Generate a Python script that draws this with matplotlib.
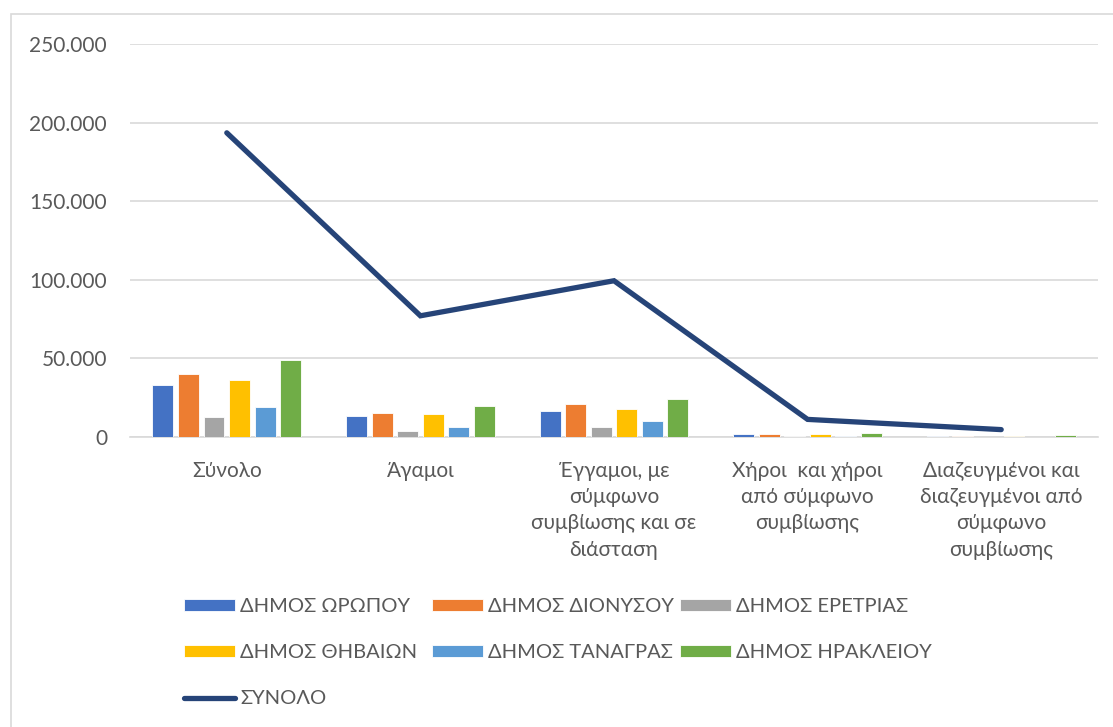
import matplotlib
matplotlib.use("Agg")
import matplotlib.pyplot as plt
import numpy as np
from matplotlib.patches import Rectangle
from matplotlib.lines import Line2D
from matplotlib.ticker import FuncFormatter

plt.rcParams['font.family'] = ['Lato', 'DejaVu Sans']

# κατηγορίες
categories = ["Σύνολο", "Άγαμοι", "Έγγαμοι, με\nσύμφωνο\nσυμβίωσης και σε\nδιάσταση",
              "Χήροι  και χήροι\nαπό σύμφωνο\nσυμβίωσης",
              "Διαζευγμένοι και\nδιαζευγμένοι από\nσύμφωνο\nσυμβίωσης"]

# τιμές ανά δήμο
oropou = [33300, 13400, 16700, 1600, 500]
dionysou = [40100, 15300, 21200, 1600, 600]
eretrias = [12900, 4000, 6550, 600, 300]
thivaion = [36000, 14800, 18000, 2200, 400]
tanagras = [19300, 6600, 10400, 900, 150]
irakleiou = [49200, 19700, 24400, 2800, 1300]
synolo = [193500, 77100, 99400, 11200, 4700]

names = ["ΔΗΜΟΣ ΩΡΩΠΟΥ", "ΔΗΜΟΣ ΔΙΟΝΥΣΟΥ", "ΔΗΜΟΣ ΕΡΕΤΡΙΑΣ",
         "ΔΗΜΟΣ ΘΗΒΑΙΩΝ", "ΔΗΜΟΣ ΤΑΝΑΓΡΑΣ", "ΔΗΜΟΣ ΗΡΑΚΛΕΙΟΥ"]
colors = ["#4472C4", "#ED7D31", "#A5A5A5", "#FFC000", "#5B9BD5", "#70AD47"]
series = [oropou, dionysou, eretrias, thivaion, tanagras, irakleiou]

W, H = 1113, 727
fig = plt.figure(figsize=(W / 100, H / 100), dpi=100)
ax = fig.add_axes([130 / W, 1 - 437 / H, (1098 - 130) / W, (437 - 44) / H])

# πλαίσιο γραφήματος
fig.patches.append(Rectangle((11 / W, -0.1), 1.2, 1 - 14 / H + 0.1, transform=fig.transFigure,
                             fill=False, edgecolor="#D9D9D9", linewidth=1.2, zorder=0))

x = np.arange(len(categories))
slot = 0.132
handles = []
for i, (vals, c) in enumerate(zip(series, colors)):
    b = ax.bar(x + (i - 2.5) * slot, vals, width=0.108, color=c, edgecolor="white",
               linewidth=0.6, zorder=3)
    handles.append(b)

ax.plot(x, synolo, color="#264478", linewidth=3.8, solid_capstyle="round",
        solid_joinstyle="miter", zorder=4)

ax.set_xlim(-0.5, len(categories) - 0.5)
ax.set_ylim(0, 250000)
ax.set_yticks(np.arange(0, 250001, 50000))
ax.yaxis.set_major_formatter(FuncFormatter(lambda v, p: f"{int(v):,}".replace(",", ".")))
ax.set_xticks(x)
ax.set_xticklabels(categories, linespacing=1.4)
ax.grid(axis="y", color="#D9D9D9", linewidth=1.2, zorder=0)
for s in ["top", "right", "left"]:
    ax.spines[s].set_visible(False)
ax.spines["bottom"].set_color("#D9D9D9")
ax.spines["bottom"].set_linewidth(1.2)
ax.tick_params(axis="both", length=0, labelsize=15, labelcolor="#595959")
ax.tick_params(axis="y", pad=16.5)
ax.tick_params(axis="x", pad=17)

# υπόμνημα: τρεις στήλες σε σταθερές θέσεις
line_handle = Line2D([0], [0], color="#264478", linewidth=3.8, solid_capstyle="round")
cols = [([handles[0], handles[3], line_handle], [names[0], names[3], "ΣΥΝΟΛΟ"], 184),
        ([handles[1], handles[4]], [names[1], names[4]], 432),
        ([handles[2], handles[5]], [names[2], names[5]], 680)]
for hh, ll, xpix in cols:
    leg = fig.legend(hh, ll, loc="upper left", bbox_to_anchor=(xpix / W, 1 - 598 / H),
                     frameon=False, fontsize=14.5, handlelength=2.55, handleheight=0.6,
                     handletextpad=0.25, labelspacing=1.45, borderpad=0, borderaxespad=0)
    for t in leg.get_texts():
        t.set_color("#595959")

fig.savefig("out.png", dpi=100)
